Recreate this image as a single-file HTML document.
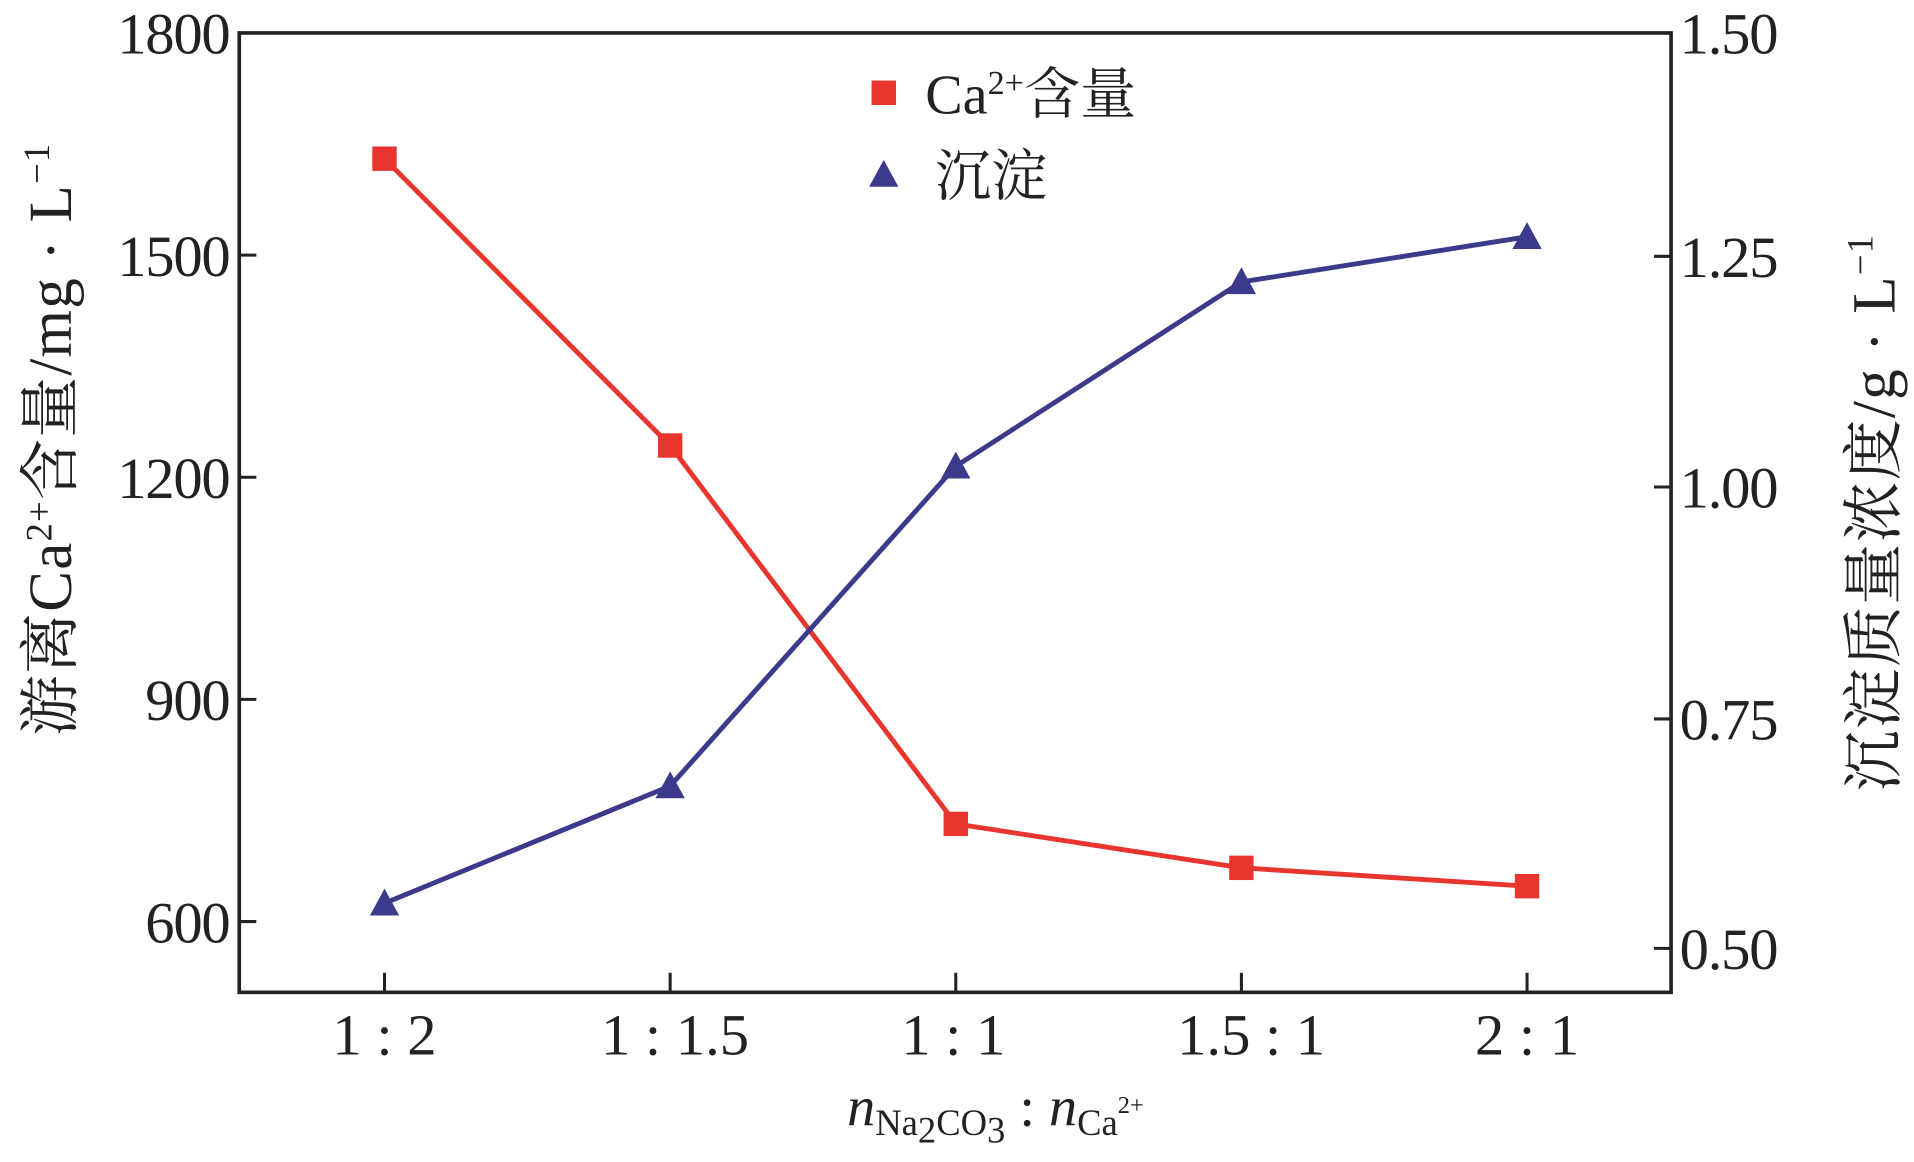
<!DOCTYPE html>
<html><head><meta charset="utf-8"><style>html,body{margin:0;padding:0;background:#fff}svg{display:block}</style></head><body>
<svg width="1914" height="1162" viewBox="0 0 1568 952" preserveAspectRatio="none" xmlns="http://www.w3.org/2000/svg" font-family="'Liberation Serif','Noto Serif CJK SC',serif">
<rect x="196" y="27" width="1173" height="786" fill="none" stroke="#222" stroke-width="3"/>
<g stroke="#222" stroke-width="2.5">
<line x1="196" y1="209" x2="210" y2="209"/><line x1="196" y1="391" x2="210" y2="391"/><line x1="196" y1="573" x2="210" y2="573"/><line x1="196" y1="755" x2="210" y2="755"/>
<line x1="1355" y1="210" x2="1369" y2="210"/><line x1="1355" y1="399" x2="1369" y2="399"/><line x1="1355" y1="589" x2="1369" y2="589"/><line x1="1355" y1="777" x2="1369" y2="777"/>
<line x1="315" y1="813" x2="315" y2="797"/><line x1="549" y1="813" x2="549" y2="797"/><line x1="783" y1="813" x2="783" y2="797"/><line x1="1017" y1="813" x2="1017" y2="797"/><line x1="1251" y1="813" x2="1251" y2="797"/>
</g>
<g font-size="48" fill="#222" text-anchor="end" letter-spacing="-1">
<text x="188" y="44">1800</text><text x="188" y="226">1500</text><text x="188" y="408">1200</text><text x="188" y="590">900</text><text x="188" y="772">600</text>
</g>
<g font-size="48" fill="#222" letter-spacing="-1">
<text x="1376" y="44">1.50</text><text x="1376" y="227">1.25</text><text x="1376" y="416">1.00</text><text x="1376" y="606">0.75</text><text x="1376" y="794">0.50</text>
</g>
<g font-size="48" fill="#222" text-anchor="middle">
<text x="315" y="864">1 : 2</text><text x="553" y="864">1 : 1.5</text><text x="781" y="864">1 : 1</text><text x="1025" y="864">1.5 : 1</text><text x="1251" y="864">2 : 1</text>
</g>
<text x="694" y="922" font-size="46" fill="#222"><tspan font-style="italic">n</tspan><tspan font-size="30" dy="8">Na</tspan><tspan font-size="30" dy="6">2</tspan><tspan font-size="30" dy="-6">CO</tspan><tspan font-size="30" dy="6">3</tspan><tspan dy="-14"> : </tspan><tspan font-style="italic">n</tspan><tspan font-size="30" dy="8">Ca</tspan><tspan font-size="20" dy="-18">2+</tspan></text>
<text transform="translate(58,360) rotate(-90)" font-size="50" fill="#222" text-anchor="middle" letter-spacing="1">游离Ca<tspan font-size="30" dy="-16">2+</tspan><tspan dy="16">含量/mg · L</tspan><tspan font-size="30" dy="-18">−1</tspan></text>
<text transform="translate(1552,420) rotate(-90)" font-size="50" fill="#222" text-anchor="middle" letter-spacing="1">沉淀质量浓度/g · L<tspan font-size="30" dy="-18">−1</tspan></text>
<polyline points="315,130 549,365 783,675 1017,711 1251,726" fill="none" stroke="#e8352d" stroke-width="4"/>
<polyline points="315,740 549,644 783,382 1017,231 1251,194" fill="none" stroke="#3c3a8a" stroke-width="4"/>
<g fill="#e8352d"><rect x="305" y="120" width="20" height="20"/><rect x="539" y="355" width="20" height="20"/><rect x="773" y="665" width="20" height="20"/><rect x="1007" y="701" width="20" height="20"/><rect x="1241" y="716" width="20" height="20"/><rect x="714" y="66" width="20" height="20"/></g>
<g fill="#3c3a8a"><polygon points="315,728 303,750 327,750"/><polygon points="549,632 537,654 561,654"/><polygon points="783,370 771,392 795,392"/><polygon points="1017,219 1005,241 1029,241"/><polygon points="1251,182 1239,204 1263,204"/><polygon points="724,131 712,153 736,153"/></g>
<text x="758" y="93" font-size="46" fill="#222">Ca<tspan font-size="28" dy="-16">2+</tspan><tspan dy="16">含量</tspan></text>
<text x="766" y="160" font-size="46" fill="#222">沉淀</text>
</svg>
</body></html>
